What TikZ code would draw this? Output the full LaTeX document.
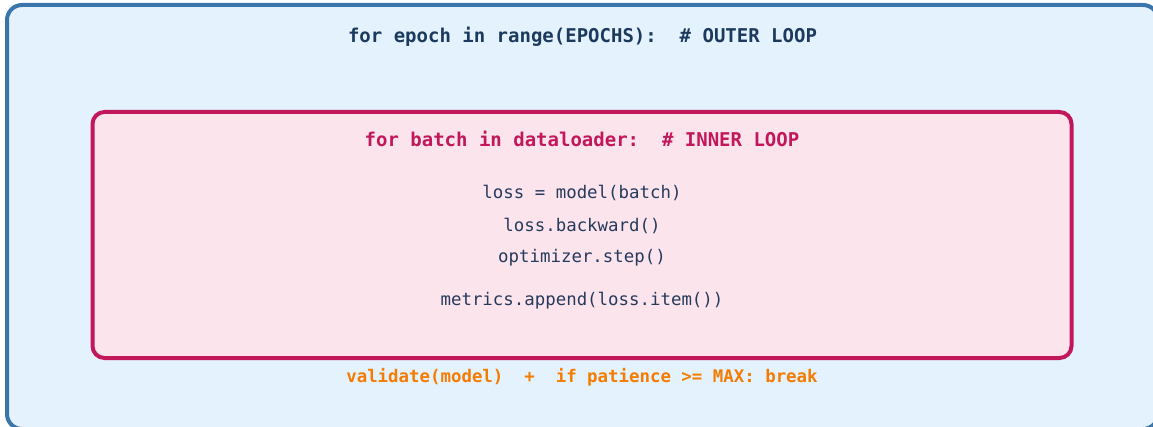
\documentclass[tikz,border=0pt]{standalone}
\usepackage{fontspec}
\setmonofont{DejaVu Sans Mono}
\usepackage{tikz}
\definecolor{outerfill}{HTML}{E3F2FD}
\definecolor{outerline}{HTML}{3A76AC}
\definecolor{outertext}{HTML}{1B3A5E}
\definecolor{innerfill}{HTML}{FCE4EC}
\definecolor{innerline}{HTML}{C2185B}
\definecolor{codetext}{HTML}{263A5C}
\definecolor{exittext}{HTML}{F57C00}
\tikzset{
    loopbox/.style={
           rectangle,
           draw, line width=4pt,
           inner sep=0pt
           },
    headline/.style={
           font=\ttfamily\bfseries\fontsize{19}{23}\selectfont,
           inner sep=1pt
           },
    codeline/.style={
           font=\ttfamily\fontsize{17.4}{21}\selectfont,
           text=codetext,
           inner sep=1pt
           },
}
\begin{document}
\begin{tikzpicture}[x=1pt,y=-1pt]
            \useasboundingbox (0,0) rectangle (1153,427);
            \clip (0,0) rectangle (1153,427);

            % outer loop box (runs off the right and bottom edge)
            \node[loopbox, draw=outerline, fill=outerfill,
              rounded corners=15pt,
              minimum width=1151pt, minimum height=424pt
              ] (outerloop) at (582.5,217) {};

            \node[headline, text=outertext] (epochhead) at (582.5,37)
              {for epoch in range(EPOCHS):~~\# OUTER LOOP};

            % inner loop box
            \node[loopbox, draw=innerline, fill=innerfill,
              rounded corners=12pt,
              minimum width=979pt, minimum height=246pt
              ] (innerloop) at (582,235) {};

            \node[headline, text=innerline] (batchhead) at (582,139)
              {for batch in dataloader:~~\# INNER LOOP};

            \node[codeline] (forward) at (582,193) {loss = model(batch)};
            \node[codeline, below of=forward, node distance=32.5pt] (backward)
              {loss.backward()};
            \node[codeline, below of=backward, node distance=32.5pt] (optstep)
              {optimizer.step()};
            \node[codeline, below of=optstep, node distance=43pt] (metrics)
              {metrics.append(loss.item())};

            \node[headline, text=exittext,
              font=\ttfamily\bfseries\fontsize{17.4}{21}\selectfont
              ] (validate) at (582,377)
              {validate(model)~~+~~if patience >= MAX: break};

\end{tikzpicture}
\end{document}
